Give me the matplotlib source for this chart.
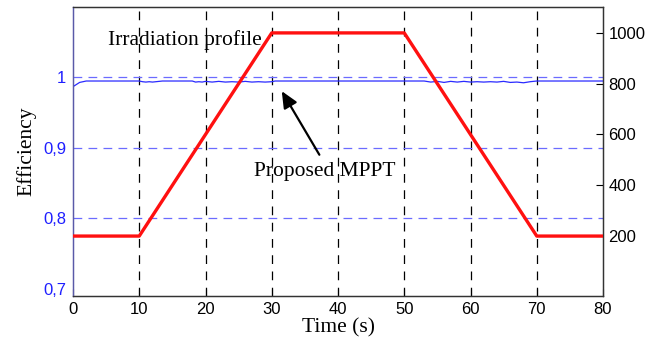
import matplotlib
matplotlib.use("Agg")
import matplotlib.pyplot as plt

# ---- data ----
time_irr = [0, 10, 30, 50, 70, 80]
irradiation = [200, 200, 1000, 1000, 200, 200]

time_eff = [0, 0.5, 1, 1.5, 2, 2.5, 10, 10.5, 11, 11.5, 12, 12.5, 13, 13.5,
            18, 18.5, 19, 19.5, 20, 21, 22, 23, 24, 25, 26, 27, 28, 29, 30, 30.5,
            53, 54, 55, 56, 57, 58, 59, 60, 61, 62, 63, 64, 65, 66, 67, 68, 69, 70, 70.5, 80]
efficiency = [0.987, 0.990, 0.993, 0.994, 0.995, 0.995, 0.995, 0.994, 0.9935, 0.994, 0.9935, 0.994, 0.9945, 0.995,
              0.995, 0.9935, 0.994, 0.9935, 0.9945, 0.9935, 0.9945, 0.9935, 0.994, 0.9935, 0.9945, 0.9935, 0.994, 0.9935, 0.994, 0.995,
              0.995, 0.9935, 0.9945, 0.993, 0.9945, 0.9935, 0.9945, 0.9935, 0.994, 0.9935, 0.994, 0.9935, 0.9945, 0.993, 0.9935, 0.9925, 0.994, 0.995, 0.995, 0.995]

x_ticks = [0, 10, 20, 30, 40, 50, 60, 70, 80]
left_ticks = [0.7, 0.8, 0.9, 1.0]
left_labels = ["0,7", "0,8", "0,9", "1"]
right_ticks = [200, 400, 600, 800, 1000]

BLUE = "#1f1fff"
SERIF = "Liberation Serif"
SANS = "Liberation Sans"

fig = plt.figure(figsize=(6.64, 3.41), dpi=100)
ax = fig.add_axes([73/664, 1 - 296/341, (603-73)/664, (296-7)/341])
ax2 = ax.twinx()

ax.set_xlim(0, 80)
ax.set_ylim(0.69, 1.1)
ax2.set_ylim(-36, 1102)

# grid lines
for xv in x_ticks[1:-1]:
    ax.axvline(xv, color="black", lw=0.9, ls=(0, (7, 6)), zorder=1)
for yv in left_ticks[1:]:
    ax.axhline(yv, color="#6b6bff", lw=0.9, ls=(0, (7, 5)), zorder=1)

ax.plot(time_eff, efficiency, color="#2a2aff", lw=0.9, zorder=3)
ax2.plot(time_irr, irradiation, color="#ff1010", lw=2.4, zorder=3)

ax.set_xticks(x_ticks)
ax.set_xticklabels([str(v) for v in x_ticks], fontfamily=SANS, fontsize=12)
ax.set_yticks(left_ticks)
ax.set_yticklabels(left_labels, fontfamily=SANS, fontsize=12, color=BLUE)
ax.tick_params(axis="x", direction="in", length=5, width=0.8, pad=4)
ax.tick_params(axis="y", direction="in", length=0, width=0.8, pad=5)
ax2.set_yticks(right_ticks)
ax2.set_yticklabels([str(v) for v in right_ticks], fontfamily=SANS, fontsize=12)
ax2.tick_params(axis="y", direction="in", length=5, width=0.8, pad=4)

for a in (ax, ax2):
    for s in a.spines.values():
        s.set_linewidth(0.9)
        s.set_color("#333333")
ax.spines["left"].set_color("#5a5aa8")
ax2.spines["left"].set_color("#5a5aa8")

ax.set_xlabel("Time (s)", fontfamily=SERIF, fontsize=15.5, labelpad=1.5)
ax.set_ylabel("Efficiency", fontfamily=SERIF, fontsize=15.5, labelpad=5)

ax.text(16.9, 1.053, "Irradiation profile", fontfamily=SERIF, fontsize=15.5,
        ha="center", va="center", zorder=5)
ax.annotate("", xy=(31.3, 0.984), xytext=(37.4, 0.887),
            arrowprops=dict(arrowstyle="-|>,head_length=1.0,head_width=0.45",
                            color="black", lw=1.6), zorder=5)
ax.text(38.0, 0.867, "Proposed MPPT", fontfamily=SERIF, fontsize=15.5,
        ha="center", va="center", zorder=5)

fig.savefig("out.png", dpi=100)
